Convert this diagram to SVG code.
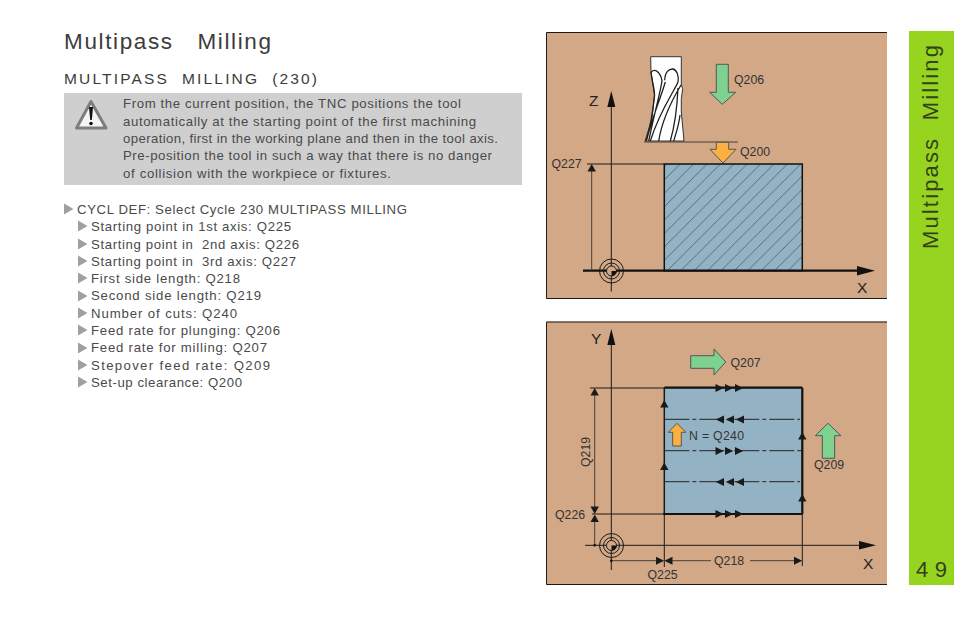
<svg xmlns="http://www.w3.org/2000/svg" width="954" height="618" viewBox="0 0 954 618">
<style>
text{font-family:"Liberation Sans",Arial,sans-serif;fill:#3c3c3c;white-space:pre}
.b{font-size:13.2px;fill:#4a4a4a}
.q{font-size:12.3px;fill:#333}
.ax{font-size:15.5px;fill:#222}
.k{stroke:#1a1a1a;stroke-width:1;fill:none}
.d{stroke:#4a4038;stroke-width:1;fill:none}
.h{stroke:#111;stroke-width:2.2;fill:none}
.dash{stroke:#222;stroke-width:1;fill:none;stroke-dasharray:25 3 4 3}
.g{fill:#7fd18f;stroke:#555;stroke-width:1}
.o{fill:#fbb040;stroke:#555;stroke-width:1}
.fl{fill:none;stroke:#1f1f1f;stroke-width:1.300}
.panel{fill:#d2a886}
.blk{fill:#93b3c4}
.side{font-size:22px;fill:#34421c}
</style>
<defs>
<pattern id="hatch" patternUnits="userSpaceOnUse" width="13.4" height="13.4"><path d="M-2 15.4L15.4-2" stroke="#33505f" stroke-width=".7"/></pattern>
<path id="tr" d="M0-4L8.200 0L0 4Z" fill="#1a1a1a"/>
<path id="tu" d="M-4.200 7.500L0 0L4.200 7.500Z" fill="#1a1a1a"/>
<path id="bul" d="M0-5.500L9.500 0L0 5.500Z" fill="#a0a0a0"/>
<g id="r3"><use href="#tr" x="715.500"/><use href="#tr" x="725"/><use href="#tr" x="735"/></g>
<g id="l3"><use href="#tr" transform="translate(724 0) scale(-1 1)"/><use href="#tr" transform="translate(734 0) scale(-1 1)"/><use href="#tr" transform="translate(744 0) scale(-1 1)"/></g>
<g id="target"><circle r="12" class="k"/><circle r="8" class="k"/><circle r="5" fill="#d2a886" stroke="#1a1a1a"/><path d="M0 0H5A5 5 0 0 1 0 5Z" fill="#111"/></g>
</defs>

<g id="title">
<text x="64" y="49" style="font-size:22.5px" textLength="207">Multipass   Milling</text>
<text x="64" y="84" style="font-size:15.5px" textLength="253">MULTIPASS  MILLING  (230)</text>
</g>

<g id="warning">
<rect x="64" y="93" width="458" height="92" fill="#cfcfcf"/>
<path d="M91 101.500L76.500 128H106Z" fill="#f4f4f4" stroke="#7d7d7d" stroke-width="3" stroke-linejoin="round"/>
<path d="M89 107H93L91.800 120H90.200Z" fill="#111"/><circle cx="91" cy="123.500" r="1.800" fill="#111"/>
<text class="b" x="123" y="108" textLength="338">From the current position, the TNC positions the tool</text>
<text class="b" x="123" y="126" textLength="353">automatically at the starting point of the first machining</text>
<text class="b" x="123" y="143" textLength="375">operation, first in the working plane and then in the tool axis.</text>
<text class="b" x="123" y="160" textLength="369">Pre-position the tool in such a way that there is no danger</text>
<text class="b" x="123" y="178" textLength="268">of collision with the workpiece or fixtures.</text>
</g>

<g id="steps">
<use href="#bul" x="64" y="209"/><text class="b" x="77" y="214" textLength="330">CYCL DEF: Select Cycle 230 MULTIPASS MILLING</text>
<use href="#bul" x="78" y="226"/><text class="b" x="91" y="231" textLength="200">Starting point in 1st axis: Q225</text>
<use href="#bul" x="78" y="244"/><text class="b" x="91" y="249" textLength="208">Starting point in  2nd axis: Q226</text>
<use href="#bul" x="78" y="261"/><text class="b" x="91" y="266" textLength="205">Starting point in  3rd axis: Q227</text>
<use href="#bul" x="78" y="278"/><text class="b" x="91" y="283" textLength="149">First side length: Q218</text>
<use href="#bul" x="78" y="296"/><text class="b" x="91" y="300" textLength="170">Second side length: Q219</text>
<use href="#bul" x="78" y="313"/><text class="b" x="91" y="318" textLength="146">Number of cuts: Q240</text>
<use href="#bul" x="78" y="330"/><text class="b" x="91" y="335" textLength="189">Feed rate for plunging: Q206</text>
<use href="#bul" x="78" y="348"/><text class="b" x="91" y="352" textLength="176">Feed rate for milling: Q207</text>
<use href="#bul" x="78" y="365"/><text class="b" x="91" y="370" textLength="179">Stepover feed rate: Q209</text>
<use href="#bul" x="78" y="382"/><text class="b" x="91" y="387" textLength="151">Set-up clearance: Q200</text>
</g>

<g id="sidebar">
<rect x="909" y="31" width="45" height="554" fill="#97d420"/>
<text class="side" transform="translate(937.500 249) rotate(-90)" textLength="204">Multipass  Milling</text>
<text class="side" x="916" y="576.500" textLength="31">49</text>
</g>

<g id="panel-top">
<rect x="546.500" y="32" width="340.500" height="266.500" class="panel"/>
<path d="M887 32.500H546.500V298.500H887" stroke="#1a1a1a" fill="none"/>
<g id="workpiece-top">
<rect x="664.300" y="164" width="138" height="106.700" class="blk"/>
<rect x="664.300" y="164" width="138" height="106.700" fill="url(#hatch)"/>
<rect x="664.300" y="164" width="138" height="106.700" fill="none" stroke="#111" stroke-width="1.500"/>
</g>
<g id="tool">
<path d="M650.700 56.700H681.300V85L682.700 88.700L681.300 98.700V112L684 141H645L652 118.700L654.500 95L651 72Z" fill="#fff" stroke="#333"/>
<path class="fl" d="M651.300 72C655 68 660 72 662 80.300C661.500 88 655 110 648.700 141M664.700 80.300C665 72 669 68.700 673 69C677 70 679 76 678 82C675 90 660 110 650.300 141M665.300 82C660 100 652 118 646.700 140M681 85C672 100 662 120 658.700 141M678 88C677 110 675 125 670.300 141M680 115C679 125 676 133 673.700 141M651 72C652 82 655 90 654.500 96C653 110 651 125 646 141"/>
</g>
<g id="connectors-top">
<path class="k" d="M611.300 291.500V100"/><path d="M607.300 107L611.300 91L615.300 107Z" fill="#111"/>
<path class="h" d="M583 270.700H866"/><path d="M857 266L875 270.700L857 275.500Z" fill="#111"/>
<path class="d" d="M644 142H738"/>
<path class="k" d="M587 164H664"/>
<path class="d" d="M591.700 270.500V170"/><use href="#tu" x="591.700" y="164"/>
</g>
<use href="#target" x="611.500" y="271"/>
<path id="arrow-q206" class="g" d="M716.300 64.300H728.300V92.300H735.700L722.300 104.300L709.700 92.300H716.300Z"/>
<path id="arrow-q200" class="o" d="M716.300 142.300H728.700V149.300H736L723 163L710 149.300H716.300Z"/>
<text class="q" x="734" y="84">Q206</text>
<text class="q" x="740" y="156">Q200</text>
<text class="q" x="551.500" y="168">Q227</text>
<text class="ax" x="589" y="106">Z</text>
<text class="ax" x="857" y="292.500">X</text>
</g>

<g id="panel-bottom">
<rect x="546.500" y="321.500" width="340.500" height="263" class="panel"/>
<path d="M887 322H546.500V584.500H887" stroke="#1a1a1a" fill="none"/>
<g id="workpiece-bottom">
<rect x="664.300" y="387.700" width="138" height="126.300" class="blk"/>
</g>
<g id="connectors-bottom">
<path class="k" d="M664.300 387.700V514" style="stroke-width:1.500"/>
<path class="h" d="M664.300 387.700H802.300M664.300 514H802.300M802.300 387.700V514"/>
<path class="dash" d="M664.300 419.300H800M664.300 450.700H802M664.300 481.700H800"/>
<use href="#r3" y="388"/><use href="#r3" y="451"/><use href="#r3" y="514"/>
<use href="#l3" y="419.500"/><use href="#l3" y="482"/>
<use href="#tu" x="664.300" y="400"/><use href="#tu" x="664.300" y="462.500"/>
<use href="#tu" x="802.300" y="432"/><use href="#tu" x="802.300" y="494"/>
<path class="k" d="M611.300 570V337"/><path d="M607.300 345L611.300 329L615.300 345Z" fill="#111"/>
<path class="k" d="M585 545.300H868"/><path d="M859 541L876 545.300L859 549.500Z" fill="#111"/>
<path class="k" d="M590 388H664M592 514H664M664.300 514V567M802.300 514V566"/>
<path class="d" d="M594.700 394V508M594.700 520V545M611.300 560.700H660M668 560.700H711M750 560.700H798"/>
<use href="#tu" x="594.700" y="388"/><use href="#tu" transform="translate(594.700 514) scale(1 -1)"/><use href="#tu" x="594.700" y="514.500"/>
<use href="#tr" x="656" y="560.700"/><use href="#tr" transform="translate(672.500 560.700) scale(-1 1)"/><use href="#tr" x="794" y="560.700"/>
<circle cx="594.700" cy="545.300" r="1.300" fill="#111"/><circle cx="611.300" cy="560.700" r="1.300" fill="#111"/><circle cx="664.300" cy="514" r="1.300" fill="#111"/>
</g>
<use href="#target" x="611.500" y="545.500"/>
<path id="arrow-q207" class="g" d="M690.700 355.700H714V349L725.700 362L714 375V368.300H690.700Z"/>
<path id="arrow-q209" class="g" d="M822.300 458.300V435.700H815.300L828 423.300L841 435.700H834.700V458.300Z"/>
<path id="arrow-n" class="o" d="M672.700 446V432.300H668.300L677 423.300L685.700 432.300H681.300V446Z"/>
<text class="q" x="730.500" y="367">Q207</text>
<text class="q" x="814" y="469">Q209</text>
<text class="q" x="689" y="440" textLength="55">N = Q240</text>
<text class="q" x="714" y="565">Q218</text>
<text class="q" x="647.500" y="579">Q225</text>
<text class="q" x="555" y="518.500">Q226</text>
<text class="q" transform="translate(590 467) rotate(-90)">Q219</text>
<text class="ax" x="591" y="344">Y</text>
<text class="ax" x="863" y="569">X</text>
</g>
</svg>
